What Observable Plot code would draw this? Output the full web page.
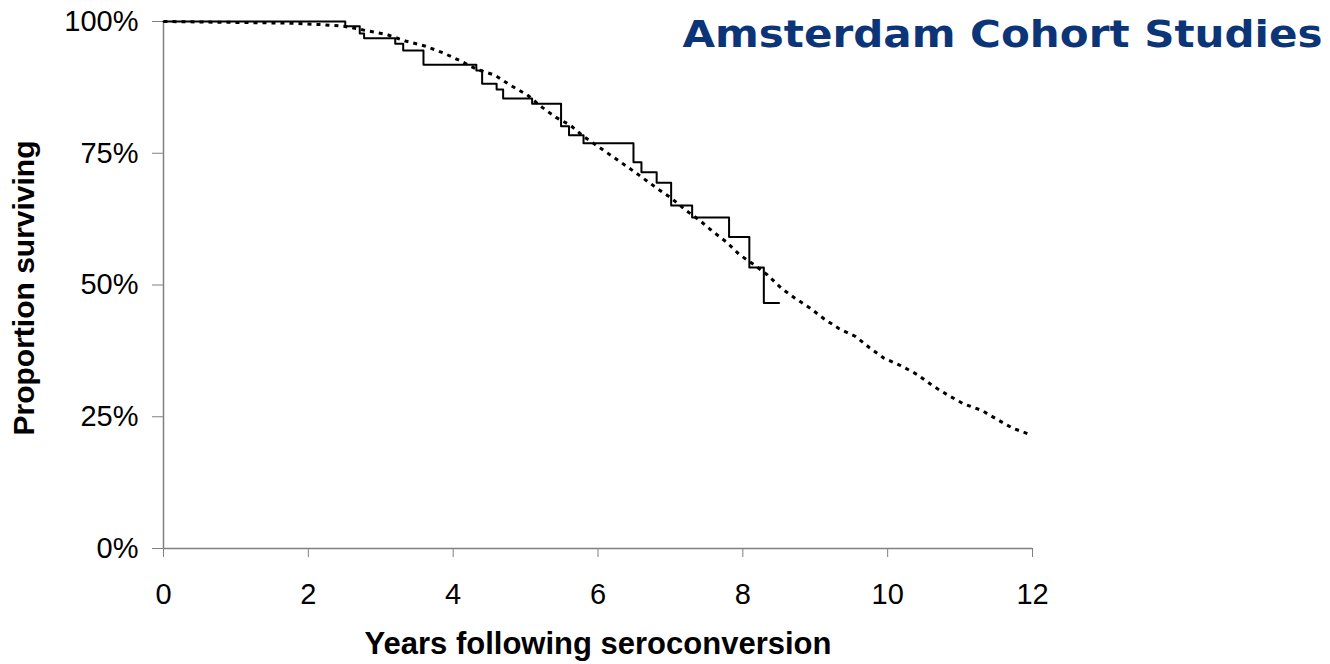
<!DOCTYPE html>
<html>
<head>
<meta charset="utf-8">
<script src="https://cdn.jsdelivr.net/npm/d3@7"></script>
<script src="https://cdn.jsdelivr.net/npm/@observablehq/plot@0.6"></script>
<style>
  html, body { margin: 0; padding: 0; background: #fff; }
</style>
</head>
<body>
<div id="chart"></div>
<script>
// Kaplan-Meier (solid step curve)
const kmYears    = [0, 2.51, 2.71, 2.77, 3.20, 3.31, 3.59, 4.32, 4.40, 4.60, 4.69, 5.09, 5.49, 5.60, 5.80, 6.49, 6.60, 6.81, 7.01, 7.30, 7.81, 8.09, 8.29, 8.50];
const kmSurvival = [1.000, 0.991, 0.977, 0.968, 0.958, 0.945, 0.918, 0.907, 0.882, 0.871, 0.854, 0.844, 0.801, 0.784, 0.769, 0.733, 0.714, 0.694, 0.651, 0.628, 0.591, 0.533, 0.466, 0.466];

// Model estimate (dotted curve)
const modelYears    = [0, 1.71, 2.19, 2.49, 2.79, 3.09, 3.34, 3.62, 3.87, 4.12, 4.33, 4.58, 4.79, 5.02, 5.23, 5.42, 5.62, 5.81, 6.01, 6.22, 6.42, 6.62, 6.82, 7.02, 7.22, 7.41, 7.58, 7.77, 7.95, 8.15, 8.34, 8.53, 8.72, 8.92, 9.12, 9.33, 9.56, 9.75, 9.95, 10.18, 10.41, 10.63, 10.82, 11.04, 11.30, 11.51, 11.73, 11.97];
const modelSurvival = [1.000, 0.997, 0.994, 0.991, 0.983, 0.975, 0.963, 0.953, 0.940, 0.924, 0.909, 0.898, 0.879, 0.861, 0.837, 0.818, 0.803, 0.781, 0.762, 0.742, 0.723, 0.703, 0.683, 0.664, 0.641, 0.622, 0.602, 0.582, 0.558, 0.539, 0.519, 0.494, 0.475, 0.457, 0.436, 0.417, 0.402, 0.381, 0.361, 0.347, 0.330, 0.308, 0.292, 0.275, 0.262, 0.245, 0.228, 0.216];

const xTicks = [0, 2, 4, 6, 8, 10, 12];
const yTicks = [0, 0.25, 0.5, 0.75, 1];

const titleText = "Amsterdam Cohort Studies";
const xLabel = "Years following seroconversion";
const yLabel = "Proportion surviving";

const km = kmYears.map((x, i) => ({x, y: kmSurvival[i]}));
const model = modelYears.map((x, i) => ({x, y: modelSurvival[i]}));

const axisGrey = "#808080";

const chart = Plot.plot({
  width: 1330,
  height: 664,
  marginLeft: 163,
  marginRight: 298,
  marginTop: 21,
  marginBottom: 116,
  style: {fontFamily: "'Liberation Sans', Arial, sans-serif", color: "#000", background: "#fff"},
  x: {domain: [0, 12]},
  y: {domain: [0, 1]},
  marks: [
    Plot.ruleY([0], {stroke: axisGrey, strokeWidth: 1.5}),
    Plot.ruleX([0], {stroke: axisGrey, strokeWidth: 1.5}),
    Plot.axisX({ticks: xTicks, tickSize: 9, tickPadding: 26, fontSize: 29, stroke: axisGrey, fill: "#000", label: null, tickFormat: d3.format("d")}),
    Plot.axisY({ticks: yTicks, tickSize: 11, tickPadding: 14, fontSize: 29, stroke: axisGrey, fill: "#000", label: null, tickFormat: d3.format(".0%")}),
    Plot.line(model, {x: "x", y: "y", stroke: "#000", strokeWidth: 3, strokeDasharray: "4,5", strokeLinecap: "butt"}),
    Plot.line(km, {x: "x", y: "y", curve: "step-after", stroke: "#000", strokeWidth: 2}),
    Plot.text([xLabel], {frameAnchor: "bottom", dy: 105, fontSize: 31, fontWeight: "bold", fill: "#000", textAnchor: "middle"}),
    Plot.text([yLabel], {frameAnchor: "left", dx: -139, dy: 3, rotate: -90, fontSize: 30, fontWeight: "bold", fill: "#000", textAnchor: "middle"}),
    Plot.text([titleText], {frameAnchor: "top-right", dx: 290, dy: -1, fontSize: 38, fontWeight: "bold", fill: "#0b3577", textAnchor: "end", fontFamily: "'DejaVu Sans', Verdana, sans-serif", className: "chart-title"})
  ]
});

// stretch the title to the reference's width
d3.select(chart).selectAll(".chart-title text")
  .attr("textLength", 640)
  .attr("lengthAdjust", "spacingAndGlyphs");

document.getElementById("chart").appendChild(chart);
</script>
</body>
</html>
